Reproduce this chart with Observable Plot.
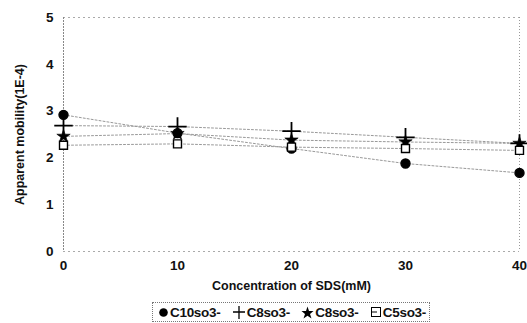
<!DOCTYPE html>
<html>
<head>
<meta charset="utf-8">
<script src="https://cdn.jsdelivr.net/npm/d3@7"></script>
<script src="https://cdn.jsdelivr.net/npm/@observablehq/plot@0.6"></script>
<style>
  html, body { margin: 0; padding: 0; background: #fff; }
  #wrap { position: relative; width: 527px; height: 323px; font-family: "Liberation Sans", Arial, sans-serif; }
  #legend { position: absolute; left: 152px; top: 302px; width: 278px; height: 20px;
    border: 1px dotted #777; display: flex; align-items: center; justify-content: space-between;
    font-weight: bold; font-size: 13.5px; color: #111; box-sizing: border-box; padding: 0 3px 0 5px; letter-spacing: -0.3px; }
  #legend span.item { display: inline-flex; align-items: center; gap: 1px; }
</style>
</head>
<body>
<div id="wrap"><div id="chart"></div><div id="legend"></div></div>
<script>
const conc = [0, 10, 20, 30, 40];
const seriesNames = ["C10so3-", "C8so3-", "C6so3-", "C5so3-"];
const legendLabels = ["C10so3-", "C8so3-", "C8so3-", "C5so3-"];
const c10 = [2.92, 2.53, 2.20, 1.88, 1.68];
const c8 = [2.69, 2.67, 2.57, 2.44, 2.31];
const c6 = [2.46, 2.52, 2.38, 2.34, 2.31];
const c5 = [2.27, 2.30, 2.23, 2.20, 2.16];
const xTicks = [0, 10, 20, 30, 40];
const yTicks = [0, 1, 2, 3, 4, 5];
const xLabel = "Concentration of SDS(mM)";
const yLabel = "Apparent mobility(1E-4)";

const allValues = [c10, c8, c6, c5];
const rows = [];
seriesNames.forEach((s, i) => conc.forEach((c, j) => rows.push({series: s, x: c, y: allValues[i][j]})));
const bySeries = name => rows.filter(r => r.series === name);

const symbols = ["circle", "plus", "star", "square"];
const fills = ["#000", "none", "#000", "#fff"];
const sizes = [4.5, 6, 4.2, 4.5];

const dotMarks = seriesNames.map((s, i) => Plot.dot(bySeries(s), {
  x: "x", y: "y", symbol: () => symbols[i], r: sizes[i],
  fill: fills[i], stroke: "#000", strokeWidth: i === 1 ? 1.8 : (i === 2 ? 0.6 : 1.4)
}));
const lineMarks = seriesNames.map(s => Plot.line(bySeries(s), {
  x: "x", y: "y", stroke: "#999", strokeWidth: 1, strokeDasharray: "2,2"
}));

const chart = Plot.plot({
  width: 527, height: 298,
  marginLeft: 63, marginRight: 8, marginTop: 17, marginBottom: 47,
  style: {fontFamily: "Liberation Sans, Arial, sans-serif", fontWeight: "bold", fontSize: "13.5px", color: "#111", background: "#fff"},
  x: {domain: [0, 40], ticks: xTicks, label: null},
  y: {domain: [0, 5], ticks: yTicks, label: null},
  marks: [
    Plot.ruleY([5], {stroke: "#aaa", strokeDasharray: "2,3"}),
    Plot.ruleX([40], {stroke: "#999", strokeDasharray: "1,2"}),
    Plot.ruleX([0], {stroke: "#888", strokeDasharray: "2,1"}),
    Plot.ruleY([0], {stroke: "#aaa", strokeDasharray: "2,3"}),
    ...lineMarks,
    ...dotMarks,
    Plot.axisX({ticks: xTicks, tickSize: 0, tickPadding: 9, label: null, fontSize: 13.5, tickFormat: d3.format("d")}),
    Plot.axisY({ticks: yTicks, tickSize: 0, tickPadding: 10, label: null, fontSize: 13.5, tickFormat: d3.format("d")}),
    Plot.text([xLabel], {frameAnchor: "bottom", dy: 38, text: d => d, fontSize: 12.5, fontWeight: "bold", fill: "#111"}),
    Plot.text([yLabel], {frameAnchor: "left", dx: -44, rotate: -90, textAnchor: "middle", text: d => d, fontSize: 12.5, fontWeight: "bold", fill: "#111"})
  ]
});
document.getElementById("chart").appendChild(chart);

const legend = document.getElementById("legend");
const symSvg = [
  '<svg width="11" height="11"><circle cx="5.5" cy="5.5" r="4.3" fill="#000"/></svg>',
  '<svg width="14" height="13"><path d="M1 6H13M7 0V13" stroke="#000" stroke-width="1.3"/></svg>',
  '<svg width="13" height="13"><path d="M6.5 0.5 L8 5 L12.5 5 L9 8 L10.5 12.5 L6.5 9.8 L2.5 12.5 L4 8 L0.5 5 L5 5 Z" fill="#000"/></svg>',
  '<svg width="12" height="12"><rect x="1.5" y="1.5" width="9" height="9" fill="#fff" stroke="#000" stroke-width="1"/><path d="M1.5 6H7" stroke="#000"/></svg>'
];
legendLabels.forEach((lab, i) => {
  const s = document.createElement("span");
  s.className = "item";
  s.innerHTML = symSvg[i] + "<span>" + lab + "</span>";
  legend.appendChild(s);
});
</script>
</body>
</html>
